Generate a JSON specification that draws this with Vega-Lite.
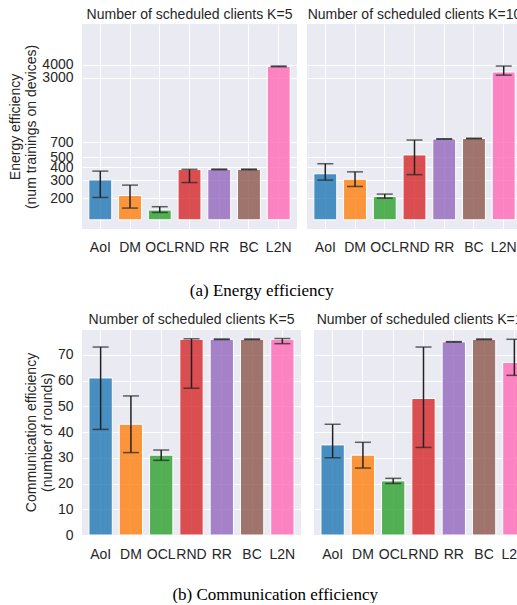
{
  "$schema": "https://vega.github.io/schema/vega-lite/v6.json",
  "padding": {"left": 8, "top": 8, "right": 0, "bottom": 0},
  "background": "white",
  "datasets": {
    "energy": [
      {"K": 5, "method": "AoI", "value": 301, "lo": 203, "hi": 367},
      {"K": 5, "method": "DM", "value": 212, "lo": 160, "hi": 268},
      {"K": 5, "method": "OCL", "value": 153, "lo": 145, "hi": 165},
      {"K": 5, "method": "RND", "value": 380, "lo": 284, "hi": 382},
      {"K": 5, "method": "RR", "value": 382, "lo": 379, "hi": 384},
      {"K": 5, "method": "BC", "value": 382, "lo": 379, "hi": 384},
      {"K": 5, "method": "L2N", "value": 3860, "lo": 3830, "hi": 3890},
      {"K": 10, "method": "AoI", "value": 346, "lo": 300, "hi": 433},
      {"K": 10, "method": "DM", "value": 306, "lo": 260, "hi": 361},
      {"K": 10, "method": "OCL", "value": 207, "lo": 200, "hi": 219},
      {"K": 10, "method": "RND", "value": 528, "lo": 339, "hi": 738},
      {"K": 10, "method": "RR", "value": 755, "lo": 752, "hi": 758},
      {"K": 10, "method": "BC", "value": 764, "lo": 761, "hi": 767},
      {"K": 10, "method": "L2N", "value": 3400, "lo": 3170, "hi": 3890}
    ],
    "comm": [
      {"K": 5, "method": "AoI", "value": 61, "lo": 41, "hi": 73},
      {"K": 5, "method": "DM", "value": 43, "lo": 32, "hi": 54},
      {"K": 5, "method": "OCL", "value": 31, "lo": 29, "hi": 33},
      {"K": 5, "method": "RND", "value": 76, "lo": 57, "hi": 76.2},
      {"K": 5, "method": "RR", "value": 76, "lo": 75.9, "hi": 76.1},
      {"K": 5, "method": "BC", "value": 76, "lo": 75.9, "hi": 76.1},
      {"K": 5, "method": "L2N", "value": 76, "lo": 74.3, "hi": 76.3},
      {"K": 10, "method": "AoI", "value": 35, "lo": 30, "hi": 43},
      {"K": 10, "method": "DM", "value": 31, "lo": 26, "hi": 36},
      {"K": 10, "method": "OCL", "value": 21, "lo": 20, "hi": 22},
      {"K": 10, "method": "RND", "value": 53, "lo": 34, "hi": 73},
      {"K": 10, "method": "RR", "value": 75, "lo": 74.9, "hi": 75.1},
      {"K": 10, "method": "BC", "value": 76, "lo": 75.9, "hi": 76.1},
      {"K": 10, "method": "L2N", "value": 67, "lo": 62, "hi": 76}
    ]
  },
  "columns": 1,
  "align": "none",
  "spacing": 14,
  "concat": [
    {
      "title": {"text": "(a) Energy efficiency", "orient": "bottom", "anchor": "start", "dx": 181, "font": "Liberation Serif", "fontSize": 17, "fontWeight": "normal", "color": "black", "offset": 29},
      "data": {"name": "energy"},
      "facet": {"column": {"field": "K", "type": "ordinal", "sort": [5, 10], "title": null, "header": {"labelExpr": "'Number of scheduled clients K=' + datum.value"}}},
      "spacing": 10,
      "spec": {
        "width": 215, "height": 205,
        "encoding": {
          "x": {"field": "method", "type": "nominal", "sort": ["AoI", "DM", "OCL", "RND", "RR", "BC", "L2N"], "scale": {"paddingInner": 0.23, "paddingOuter": 0.23}, "axis": {"title": null, "labelOverlap": false}}
        },
        "layer": [
          {"mark": {"type": "bar", "fillOpacity": 0.8, "stroke": "white", "strokeWidth": 1},
           "encoding": {
             "y": {"field": "value", "type": "quantitative", "scale": {"type": "log", "domain": [123, 4500]}, "axis": {"values": [200, 300, 400, 500, 700, 3000, 4000], "format": "d", "labelOverlap": false, "title": ["Energy efficiency", "(num trainings on devices)"]}},
             "y2": {"datum": 123},
             "color": {"field": "method", "type": "nominal", "legend": null, "scale": {"domain": ["AoI", "DM", "OCL", "RND", "RR", "BC", "L2N"], "range": ["#1f77b4", "#ff7f0e", "#2ca02c", "#d62728", "#9467bd", "#8c564b", "#ff69b4"]}}
           }},
          {"mark": {"type": "rule", "color": "#222222", "strokeWidth": 1.5}, "encoding": {"y": {"field": "lo", "type": "quantitative", "axis": {"values": [200, 300, 400, 500, 700, 3000, 4000], "format": "d", "labelOverlap": false, "title": ["Energy efficiency", "(num trainings on devices)"]}}, "y2": {"field": "hi"}}},
          {"mark": {"type": "tick", "color": "#222222", "thickness": 1.5, "size": 16, "orient": "horizontal"}, "encoding": {"y": {"field": "hi", "type": "quantitative", "axis": {"values": [200, 300, 400, 500, 700, 3000, 4000], "format": "d", "labelOverlap": false, "title": ["Energy efficiency", "(num trainings on devices)"]}}}},
          {"mark": {"type": "tick", "color": "#222222", "thickness": 1.5, "size": 16, "orient": "horizontal"}, "encoding": {"y": {"field": "lo", "type": "quantitative", "axis": {"values": [200, 300, 400, 500, 700, 3000, 4000], "format": "d", "labelOverlap": false, "title": ["Energy efficiency", "(num trainings on devices)"]}}}}
        ]
      }
    },
    {
      "title": {"text": "(b) Communication efficiency", "orient": "bottom", "anchor": "start", "dx": 148, "font": "Liberation Serif", "fontSize": 17, "fontWeight": "normal", "color": "black", "offset": 26},
      "data": {"name": "comm"},
      "facet": {"column": {"field": "K", "type": "ordinal", "sort": [5, 10], "title": null, "header": {"labelExpr": "'Number of scheduled clients K=' + datum.value"}}},
      "spacing": 13,
      "spec": {
        "width": 219, "height": 206,
        "encoding": {
          "x": {"field": "method", "type": "nominal", "sort": ["AoI", "DM", "OCL", "RND", "RR", "BC", "L2N"], "scale": {"paddingInner": 0.23, "paddingOuter": 0.23}, "axis": {"title": null, "labelOverlap": false}}
        },
        "layer": [
          {"mark": {"type": "bar", "fillOpacity": 0.8, "stroke": "white", "strokeWidth": 1},
           "encoding": {
             "y": {"field": "value", "type": "quantitative", "scale": {"domain": [0, 80], "nice": false}, "axis": {"values": [0, 10, 20, 30, 40, 50, 60, 70, 80], "labelOverlap": false, "labelExpr": "datum.value == 80 ? '' : datum.label", "title": ["Communication efficiency", "(number of rounds)"]}},
             "color": {"field": "method", "type": "nominal", "legend": null, "scale": {"domain": ["AoI", "DM", "OCL", "RND", "RR", "BC", "L2N"], "range": ["#1f77b4", "#ff7f0e", "#2ca02c", "#d62728", "#9467bd", "#8c564b", "#ff69b4"]}}
           }},
          {"mark": {"type": "rule", "color": "#222222", "strokeWidth": 1.5}, "encoding": {"y": {"field": "lo", "type": "quantitative", "axis": {"values": [0, 10, 20, 30, 40, 50, 60, 70, 80], "labelOverlap": false, "labelExpr": "datum.value == 80 ? '' : datum.label", "title": ["Communication efficiency", "(number of rounds)"]}}, "y2": {"field": "hi"}}},
          {"mark": {"type": "tick", "color": "#222222", "thickness": 1.5, "size": 16, "orient": "horizontal"}, "encoding": {"y": {"field": "hi", "type": "quantitative", "axis": {"values": [0, 10, 20, 30, 40, 50, 60, 70, 80], "labelOverlap": false, "labelExpr": "datum.value == 80 ? '' : datum.label", "title": ["Communication efficiency", "(number of rounds)"]}}}},
          {"mark": {"type": "tick", "color": "#222222", "thickness": 1.5, "size": 16, "orient": "horizontal"}, "encoding": {"y": {"field": "lo", "type": "quantitative", "axis": {"values": [0, 10, 20, 30, 40, 50, 60, 70, 80], "labelOverlap": false, "labelExpr": "datum.value == 80 ? '' : datum.label", "title": ["Communication efficiency", "(number of rounds)"]}}}}
        ]
      }
    }
  ],
  "config": {
    "font": "Liberation Sans",
    "view": {"fill": "#EAEAF2", "stroke": null},
    "header": {"labelFont": "Liberation Sans", "labelFontSize": 14, "labelColor": "#262626", "labelPadding": 2},
    "axis": {
      "domain": false, "ticks": false, "grid": true, "gridColor": "white", "gridWidth": 1, "gridOpacity": 1,
      "labelFont": "Liberation Sans", "labelFontSize": 14, "labelColor": "#262626", "labelPadding": 9, "labelOverlap": false,
      "titleFont": "Liberation Sans", "titleFontSize": 14, "titleFontWeight": "normal", "titleColor": "#262626", "titlePadding": 3, "titleLineHeight": 16
    },
    "axisX": {"labelAngle": 0, "bandPosition": 0.5, "labelPadding": 11},
    "title": {"font": "Liberation Sans", "fontSize": 14, "fontWeight": "normal", "color": "#262626", "offset": 3}
  }
}
